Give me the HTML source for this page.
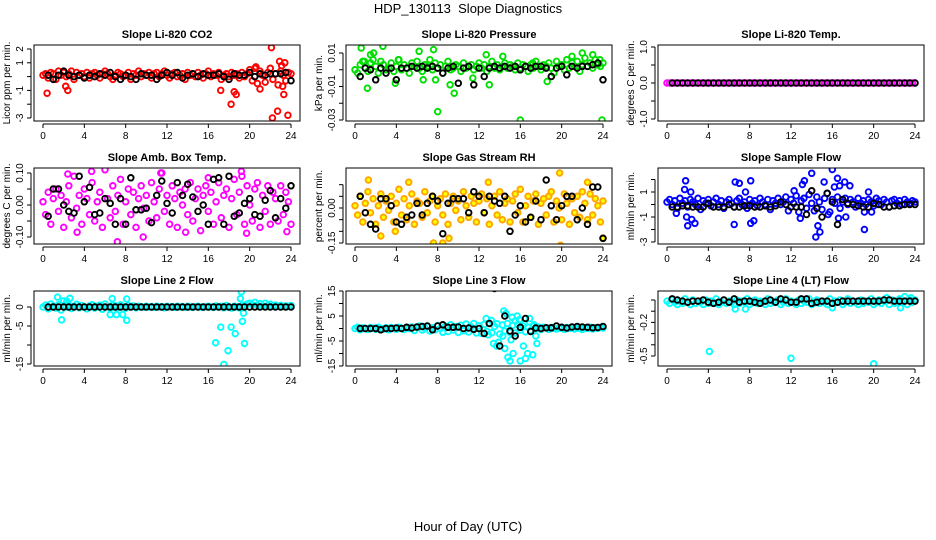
<!DOCTYPE html>
<html><head><meta charset="utf-8"><title>HDP_130113 Slope Diagnostics</title>
<style>
html,body{margin:0;padding:0;background:#fff;}
svg{display:block;font-family:"Liberation Sans",Arial,sans-serif;}
.ttl{font-weight:bold;font-size:11px;}
.tk{font-size:10px;}
.yl{font-size:10px;}
</style></head>
<body>
<svg id="chart" width="936" height="540" viewBox="0 0 936 540" xmlns="http://www.w3.org/2000/svg">
<text x="468" y="13" text-anchor="middle" font-size="13" xml:space="preserve" style="white-space:pre">HDP_130113  Slope Diagnostics</text>
<text x="468" y="531" text-anchor="middle" font-size="13">Hour of Day (UTC)</text>
</svg>
<script>
// ---- data ----
const xTicks = [0,4,8,12,16,20,24];
const titles = ["Slope Li-820 CO2","Slope Li-820 Pressure","Slope Li-820 Temp.","Slope Amb. Box Temp.","Slope Gas Stream RH","Slope Sample Flow","Slope Line 2 Flow","Slope Line 3 Flow","Slope Line 4 (LT) Flow"];
const yTitles = ["Licor ppm per min.","kPa per min.","degrees C per min.","degrees C per min.","percent per min.","ml/min per min.","ml/min per min.","ml/min per min.","ml/min per min."];
const yTickVals = [[2,1,0,-1,-2,-3],[0.01,0,-0.01,-0.02,-0.03],[1,0.5,0,-0.5,-1],[0.1,0.05,0,-0.05,-0.1],[0.1,0.05,0,-0.05,-0.1,-0.15],[2,1,0,-1,-2,-3],[0,-5,-10,-15],[15,10,5,0,-5,-10,-15],[0,-0.1,-0.2,-0.3,-0.4,-0.5]];
const yTickLabels = [["2","1","","-1","","-3"],["0.01","","-0.01","","-0.03"],["1.0","","0.0","","-1.0"],["0.10","","0.00","","-0.10"],["","","0.00","","","-0.15"],["","1","","-1","","-3"],["0","-5","","-15"],["15","","5","","-5","","-15"],["","","-0.2","","","-0.5"]];

const co2Band = [0.1,0.2,-0.1,0.3,0.2,-0.2,0.4,0.1,0.3,0,0.2,0.4,-0.2,0.3,0.1,0.2,0,0.3,-0.1,0.2,0.3,0.1,-0.1,0.2,0.4,0.2,0,-0.2,0.1,0.3,0.2,0,0.1,0.3,-0.2,0.2,0.1,0.4,0,0.2,0.1,0.3,-0.1,0.2,0.3,0,0.2,0.4,0.1,-0.1,0.2,0.3,0,0.1,0.2,-0.2,0.3,0.1,0.2,0,0.3,0.1,-0.1,0.2,0.4,0,0.2,0.1,0.3,-0.2,0.1,0.2,0,0.3,0.1,0.2,-0.1,0.3,0,0.2,0.5,-0.3,0.6,-0.5,0.4,0.1,-0.4,0.3,0.6,-0.2,0.2,-0.6,0.4,0.1,-0.3,0.3,0.2];
const co2Out = [[0.4,-1.2],[2.2,-0.7],[2.4,-1.0],[17.2,-1.0],[18.2,-2.0],[18.5,-1.1],[18.7,-1.3],[22.1,2.1],[22.2,-3.0],[22.7,-2.5],[23.7,-2.8],[23.3,-1.3],[22.9,1.1],[23.1,0.8],[23.4,1.0],[21.0,-0.9],[20.6,0.7],[23.2,-0.7]];
const co2Black = [0.1,-0.2,0.1,0.4,0.1,0,0.1,-0.1,0.1,0,0.2,0.1,0.3,0,-0.2,0.1,0,-0.2,0.2,0.1,0.1,-0.2,0.1,0.3,0.1,0.3,-0.1,0.1,0.2,0,0.2,0.1,0.1,0.2,0,-0.2,0.2,0.1,0.1,0.3,0,0.2,0.1,0.2,0.2,0.2,0.3,-0.3];

const presBand = [0,-0.002,0.003,0.005,0.001,-0.001,0.004,0.006,0.002,-0.002,0.005,0.003,0,0.001,0.004,-0.001,0.002,0.006,0,0.003,0.001,-0.002,0.004,0.002,0.005,0.001,-0.001,0.003,0.002,0.006,0,0.004,0.001,0.003,-0.002,0.002,0.005,0,0.001,0.003,0.002,-0.001,0.004,0.001,0.002,0.003,0,0.002,0.004,0.001,0.003,-0.001,0.002,0.005,0.001,0.003,0,0.002,0.004,0.001,0.003,0.002,0,0.004,0.001,0.003,0.002,-0.001,0.003,0.001,0.005,0.002,0,0.003,0.002,0.004,0.001,-0.002,0.005,0.002,0.003,0,0.006,0.001,0.004,0.002,0.005,-0.001,0.003,0.007,0.002,0.004,0.001,0.006,0.003,0.002,0.004];
const presOut = [[0.6,0.013],[1.2,-0.011],[0.9,0.005],[2.7,0.014],[4.2,0.006],[3.9,-0.008],[6.2,0.011],[6.6,-0.006],[7.6,0.012],[8.0,-0.025],[7.8,-0.006],[9.6,-0.014],[9.2,-0.009],[11.4,-0.005],[12.7,0.009],[13.0,-0.009],[14.3,0.008],[16.0,-0.030],[18.6,-0.007],[22.0,0.010],[23.0,0.009],[23.9,-0.030],[23.7,0.006],[1.5,0.009],[1.8,0.010],[17.2,0.004],[21.0,0.008],[19.0,-0.004]];
const presBlack = [-0.004,0.001,0,-0.006,0.001,-0.002,0.001,-0.006,0.001,0.001,0.002,0.001,0.002,0.001,0.002,0.001,-0.002,0.001,0.002,-0.008,0.001,0.002,-0.009,0.001,-0.004,0.001,0.002,0.001,0.002,0.001,0.002,0,0.002,0.001,0.002,0.002,0.001,-0.004,0.001,0.002,-0.003,0.002,0.001,0.002,0.002,0.003,0.004,-0.006];

const tempBand = [0,0,0,0,0,0,0,0,0,0,0,0,0,0,0,0,0,0,0,0,0,0,0,0,0,0,0,0,0,0,0,0,0,0,0,0,0,0,0,0,0,0,0,0,0,0,0,0,0,0,0,0,0,0,0,0,0,0,0,0,0,0,0,0,0,0,0,0,0,0,0,0,0,0,0,0,0,0,0,0,0,0,0,0,0,0,0,0,0,0,0,0,0,0,0,0,0];
const tempOut = [];
const tempBlack = [0,0,0,0,0,0,0,0,0,0,0,0,0,0,0,0,0,0,0,0,0,0,0,0,0,0,0,0,0,0,0,0,0,0,0,0,0,0,0,0,0,0,0,0,0,0,0,0];

const ambBand = [0.01,-0.03,0.04,-0.06,0.02,0.05,-0.02,0.03,-0.07,0.01,0.06,-0.04,0.09,-0.01,0.03,-0.06,0.05,0.02,-0.03,0.07,-0.05,0.01,0.04,-0.07,0.11,0.02,-0.04,0.06,-0.02,0.03,0.08,-0.06,0.01,0.05,-0.03,0.04,-0.07,0.02,0.06,-0.01,0.03,-0.05,0.07,0.01,-0.04,0.05,0.1,-0.02,0.03,-0.06,0.06,0.02,-0.07,0.04,0,0.05,-0.03,0.07,-0.05,0.02,0.05,-0.08,0.03,0.06,-0.02,0.04,-0.06,0.01,0.07,-0.04,0.03,0.05,-0.07,0.02,0.08,-0.03,0.04,0.09,-0.06,0.06,0,-0.05,0.05,0.07,-0.07,0.03,-0.02,0.06,-0.06,0.04,0.02,-0.05,0.06,-0.03,0.04,0.01,-0.06];
const ambOut = [[7.2,-0.115],[4.7,0.105],[11.4,0.1],[19.2,0.105],[2.4,0.097],[9.7,-0.1],[19.7,-0.088],[3.3,-0.085],[16,0.085],[23.6,-0.083],[13.8,-0.085]];
const ambBlack = [-0.035,0.05,0.05,0,-0.02,-0.025,0.09,0.01,0.055,-0.03,-0.025,0.02,0.005,-0.06,0.02,-0.06,0.085,-0.015,-0.015,-0.01,-0.055,0.03,0.075,0.005,-0.025,0.07,0.03,0.065,0.025,-0.02,0,-0.06,0.08,0.085,-0.06,0.09,-0.035,-0.025,0.005,0.02,-0.03,-0.035,0.015,0.045,-0.04,0.02,-0.01,0.06];

const rhBand = [0.01,-0.03,0.05,-0.06,0.02,0.07,-0.02,0.04,-0.07,0.01,0.06,-0.04,0.03,-0.01,0.05,-0.06,0.02,0.08,-0.03,0.04,-0.05,0.01,0.06,-0.07,0.03,0.02,-0.04,0.07,-0.02,0.03,0.05,-0.06,0.01,0.04,-0.03,0.06,-0.07,0.02,0.05,-0.01,0.03,-0.05,0.07,0.01,-0.04,0.05,0.02,-0.06,0.03,0.06,-0.02,0.04,-0.07,0.01,0.05,-0.03,0.07,-0.05,0.02,0.04,-0.06,0.03,0.06,-0.02,0.08,-0.06,0.01,0.05,-0.04,0.03,0.06,-0.07,0.02,0.04,-0.03,0.05,0.07,-0.06,0.03,0,-0.05,0.06,0.02,-0.07,0.04,-0.02,0.05,-0.04,0.07,0.02,-0.05,0.06,-0.03,0.04,0.01,-0.06,0.03];
const rhOut = [[1.3,0.12],[5.2,0.11],[7.6,-0.15],[8.5,-0.15],[3.9,-0.1],[12.9,0.11],[19.9,-0.16],[19.8,0.15],[24,-0.13],[22.5,0.11],[9.1,-0.13],[2.5,-0.12]];
const rhBlack = [0.05,-0.02,-0.07,-0.09,0.04,0.04,0.01,-0.06,-0.07,-0.04,-0.03,0.02,-0.03,0.02,0.05,0.03,-0.11,0.02,0.04,0.04,0.04,-0.02,0.07,0.05,-0.02,0.05,0.03,0.02,0.05,-0.1,-0.03,0.01,-0.06,-0.04,0.03,-0.05,0.12,0.01,-0.05,0.01,0.05,0.05,-0.05,0,-0.07,0.09,0.09,-0.13];

const sfBand = [0.2,0.4,0,0.3,-0.3,0.5,0.1,0.3,-0.2,0.4,0.2,0,0.5,-0.4,0.3,0.1,0.4,-0.1,0.2,0.5,0,0.3,-0.3,0.2,0.4,0.1,-0.2,0.3,0.5,0,0.2,-0.3,0.4,0.1,0.3,-0.1,0.5,0.2,0,0.4,-0.4,0.3,0.1,0.5,0,0.2,0.6,-0.5,0.4,0.1,0.7,-0.6,0.3,0.5,-0.3,0.8,0.1,-0.5,0.6,0.2,-0.4,0.5,0.9,-0.6,0.4,0.1,0.6,-0.3,0.2,0.5,0,0.4,0.2,-0.2,0.5,0.1,0.3,0,0.4,0.2,-0.1,0.5,0.3,0,0.4,0.2,-0.2,0.3,0.4,0.1,0.3,0,0.4,0.2,0.1,0.3,0.2];
const sfOut = [[1.8,1.9],[1.7,1.2],[2.3,1.0],[1.9,-1.0],[2.0,-1.7],[2.4,-1.2],[2.7,-1.5],[0.9,-0.7],[6.6,1.8],[7.0,1.7],[6.5,-1.6],[7.6,1.0],[8.1,1.9],[8.1,-1.5],[8.4,-1.3],[12.3,1.1],[12.9,-1.1],[13.1,1.6],[13.3,1.9],[14.0,2.5],[14.6,-1.7],[14.8,-2.2],[14.4,-2.6],[15.2,1.8],[16.0,2.8],[16.5,2.1],[16.7,1.5],[17.2,1.8],[17.7,1.5],[16.2,1.4],[17.3,-1.0],[16.6,-1.1],[19.5,1.0],[19.1,-0.6],[19.1,-2.0],[19.8,-0.6],[15.6,-0.8]];
const sfBlack = [-0.2,-0.2,-0.1,-0.1,-0.2,-0.2,-0.2,0.1,-0.2,-0.2,-0.2,0,-0.2,-0.2,-0.1,-0.1,-0.2,-0.2,-0.1,-0.2,-0.1,0.2,0,-0.2,-0.2,-0.2,-0.8,1.1,-0.3,-1.0,0.9,0.2,-1.6,0.4,0.1,0,-0.1,-0.2,-0.2,0.1,0,-0.2,-0.2,-0.1,-0.1,0,0,0];

const l2Band = [0,0.5,-0.5,0.8,0.2,-0.3,0.6,-0.8,0.3,0,0.5,-0.4,0.2,0.7,-0.2,0.4,0,-0.5,0.3,0.6,-0.3,0.2,0.5,-0.6,0.8,0,-0.4,0.5,0.3,-0.2,0.6,0.1,-0.3,0.4,0,0.3,-0.2,0.2,0.1,-0.1,0.2,0,0.1,-0.1,0.2,0,0.1,-0.2,0.2,0,0.1,-0.1,0.2,0,0.1,-0.1,0.2,0,-0.1,0.1,0.2,0,-0.1,0.1,0.2,0,-0.1,0.3,0,0.2,-0.2,0.4,0,-0.3,0.2,0.1,-0.2,0.3,0.5,0.8,1.0,0.6,1.2,0.5,0.9,0.3,1.0,0.4,0.7,0.2,0.5,0.3,0.4,0.1,0.3,0.2,0.4];
const l2Out = [[1.4,2.6],[1.8,-3.4],[2.0,1.6],[2.3,1.5],[2.6,2.3],[6.5,-2.0],[6.7,2.2],[7.1,-2.0],[7.7,-2.0],[8.1,2.1],[8.1,-3.5],[16.7,-9.4],[17.2,-5.3],[17.5,-15.1],[17.9,-11.5],[18.2,-5.3],[18.6,-7.0],[19.2,4.0],[19.1,2.2],[19.3,-3.8],[19.5,-9.6],[19.4,-1.6]];
const l2Black = [0,0,0,0,0,0,0,0,0,0,0,0,0,0,0,0,0,0,0,0,0,0,0,0,0,0,0,0,0,0,0,0,0,0,0,0,0,0,0,0,0,0,0,0,0,0,0,0];

const l3Band = [0,0.5,-0.5,0.3,0,-0.4,0.4,0.1,-0.3,0.5,0,-0.2,0.3,-0.5,0.4,0,-0.3,0.5,0.1,-0.4,0.3,0,0.6,-0.8,0.4,1.0,-0.6,0.2,0.8,-1.0,0.3,-0.5,1.2,0,-1.5,0.9,-1.2,1.5,-0.6,0.8,-1.6,1.3,-0.9,1.8,-1.4,0.6,2.0,-1.8,1.1,-2.0,1.6,-1.2,2.2,-1.7,0.8,1.9,-2.2,1.4,-1.0,2.0,-1.5,1.2,-1.8,1.6,-0.6,1.0,-1.3,0.5,-0.8,0.9,0,0.6,-0.4,0.5,0.2,-0.3,0.4,0,-0.2,0.3,0.1,-0.3,0.4,0,0.5,-0.2,0.3,0.1,-0.4,0.3,0,0.5,-0.2,0.3,0.1,0.4,0.2];
const l3Out = [[12.7,4.0],[13.2,3.2],[12.9,-2.5],[13.4,-6.0],[13.7,-7.0],[13.9,-5.5],[14.4,7.0],[14.6,6.0],[14.3,-3.0],[14.8,-11.5],[15.0,-13.0],[15.3,-10.0],[15.1,-4.5],[15.5,3.0],[15.7,5.0],[15.9,3.5],[16.3,-7.0],[16.0,-13.0],[16.5,-12.0],[16.7,-10.0],[16.9,4.0],[17.3,1.5],[17.5,-3.0],[17.6,-6.0],[17.2,-10.5],[15.2,4.5],[16.4,2.0],[14.5,-8.0]];
const l3Black = [0,0,0,0,-0.5,0,0,0.2,0,0.5,0.2,0.6,0.8,1.0,-0.5,1.0,1.5,0.5,0.5,0.6,0,0.2,-0.3,0,-2.0,2.0,16.0,-7.0,5.0,-1.0,-3.0,0.5,4.0,-1.2,0.2,0,0.3,0.3,1.0,0.5,0.2,0.6,0.8,0.6,0.5,0.3,0.4,0.8];

const l4Band = [-0.01,-0.03,0,-0.02,-0.04,-0.01,-0.03,0.01,-0.02,-0.04,0,-0.03,-0.01,-0.02,-0.04,0,-0.03,-0.01,-0.02,0.01,-0.04,-0.02,0,-0.03,-0.01,-0.02,-0.04,0,-0.03,-0.01,-0.02,0.01,-0.04,-0.02,0,-0.03,-0.01,-0.02,-0.04,0.01,-0.03,-0.01,-0.02,0,-0.04,-0.02,0.01,-0.03,-0.01,-0.02,-0.04,0,-0.03,-0.01,-0.02,0.01,-0.04,-0.02,0,-0.03,-0.01,-0.02,-0.04,0.01,-0.03,-0.01,-0.02,0,-0.04,-0.02,0.01,-0.03,-0.01,-0.02,-0.04,0,-0.03,-0.01,-0.02,0.01,-0.04,-0.02,0,-0.03,-0.01,0.02,-0.04,0,-0.03,-0.01,0.01,-0.02,0.03,-0.04,0,-0.02,0];
const l4Out = [[4.1,-0.46],[12.0,-0.52],[20.0,-0.57],[6.6,-0.08],[7.6,-0.08],[16.0,-0.07],[22.6,-0.07],[23.6,0.02]];
const l4Black = [0.01,0,-0.01,-0.02,-0.01,-0.01,0,-0.02,-0.03,-0.02,0,-0.02,0.01,-0.02,-0.01,-0.01,-0.02,-0.03,-0.01,0,-0.02,0.01,0,-0.02,-0.02,0.01,0.01,-0.03,-0.02,-0.01,-0.01,-0.03,-0.02,-0.01,-0.01,-0.01,-0.01,-0.01,-0.01,-0.01,-0.01,0,0,-0.01,-0.01,-0.01,-0.01,-0.01];

const bands = [co2Band,presBand,tempBand,ambBand,rhBand,sfBand,l2Band,l3Band,l4Band];
const outliers = [co2Out,presOut,tempOut,ambOut,rhOut,sfOut,l2Out,l3Out,l4Out];
const blacks = [co2Black,presBlack,tempBlack,ambBlack,rhBlack,sfBlack,l2Black,l3Black,l4Black];

// ---- layout (not data) ----
const colors = ["#ff0000","#00e000","#ff00ff","#ff00ff","#ffa500","#0000ff","#00ffff","#00ffff","#00ffff"];
const cols = [{L:34,R:300,x0:43,x1:291},{L:346,R:612,x0:355,x1:603},{L:658,R:924,x0:667,x1:915}];
const rows = [{T:45,B:121},{T:168,B:244},{T:291,B:366}];
const yCal = [[2,49,-3,118],[0.01,53,-0.03,120],[1,47,-1,119],[0.1,173,-0.1,237],[0,208,-0.15,243],[1,192,-3,242],[0,307,-15,364],[15,291,-15,366],[0,300,-0.5,356]];

const NS = "http://www.w3.org/2000/svg";
const svg = document.getElementById('chart');
function mk(tag, attrs, parent){
  const e = document.createElementNS(NS, tag);
  for (const k in attrs) e.setAttribute(k, attrs[k]);
  (parent||svg).appendChild(e);
  return e;
}
function circ(g, cx, cy, col, fill){
  const c = mk('circle', {cx:cx.toFixed(1), cy:cy.toFixed(1), r:2.8, fill:fill||'none', stroke:col, 'stroke-width':1.9}, g);
  
  
  return c;
}

for (let p = 0; p < 9; p++){
  const c = cols[p%3], r = rows[Math.floor(p/3)], cal = yCal[p];
  const xs = h => c.x0 + (c.x1 - c.x0) * h / 24;
  const ys = v => cal[1] + (v - cal[0]) * (cal[3] - cal[1]) / (cal[2] - cal[0]);
  const g = mk('g', {});
  
  

  const clip = mk('clipPath', {id:'cp'+p}, g);
  mk('rect', {x:c.L, y:r.T, width:c.R-c.L, height:r.B-r.T}, clip);
  const pts = mk('g', {'clip-path':'url(#cp'+p+')'}, g);
  
  

  const col = colors[p];
  const fill = p === 4 ? '#ffff00' : 'none';
  const band = bands[p];
  band.forEach((v, i) => {
    const h = i * 24 / (band.length - 1);
    circ(pts, xs(h), ys(v), col, fill);
  });
  outliers[p].forEach(d => circ(pts, xs(d[0]), ys(d[1]), col, fill));
  const bk = blacks[p];
  bk.forEach((v, i) => {
    const h = 0.5 + i * 23.5 / (bk.length - 1);
    circ(pts, xs(h), ys(v), '#000');
  });

  const box = mk('rect', {x:c.L, y:r.T, width:c.R-c.L, height:r.B-r.T, fill:'none', stroke:'#000', 'stroke-width':1}, g);
  
  

  const t = mk('text', {x:(c.L+c.R)/2, y:r.T-7, 'text-anchor':'middle', class:'ttl'}, g);
  t.textContent = titles[p];
  
  

  const ax = r.B + 3;
  mk('line', {x1:xs(0), x2:xs(24), y1:ax, y2:ax, stroke:'#000'}, g);
  xTicks.forEach(h => {
    mk('line', {x1:xs(h), x2:xs(h), y1:ax, y2:ax+4, stroke:'#000'}, g);
    const tl = mk('text', {x:xs(h), y:ax+15, 'text-anchor':'middle', class:'tk'}, g);
    tl.textContent = h;
    
    
  });
  const tv = yTickVals[p], tls = yTickLabels[p];
  const ay = c.L - 3;
  mk('line', {x1:ay, x2:ay, y1:ys(tv[0]), y2:ys(tv[tv.length-1]), stroke:'#000'}, g);
  tv.forEach((v, i) => {
    const y = ys(v);
    mk('line', {x1:ay-4, x2:ay, y1:y, y2:y, stroke:'#000'}, g);
    if (tls[i]) {
      const tl = mk('text', {x:ay-8, y:y, 'text-anchor':'middle', class:'tk', transform:'rotate(-90 '+(ay-8)+' '+y+')'}, g);
      tl.textContent = tls[i];
      
      
    }
  });
  const ym = (r.T + r.B) / 2, yx = c.L - 24;
  const yt = mk('text', {x:yx, y:ym, 'text-anchor':'middle', class:'yl', transform:'rotate(-90 '+yx+' '+ym+')'}, g);
  yt.textContent = yTitles[p];
  
  
}
</script>
</body></html>
